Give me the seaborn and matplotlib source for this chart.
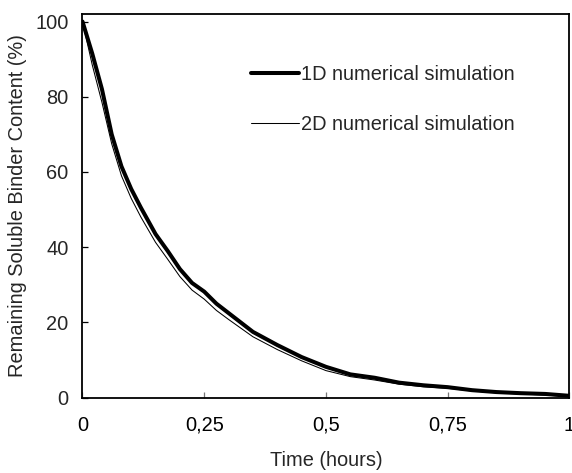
import matplotlib
matplotlib.use("Agg")
import matplotlib.pyplot as plt
import seaborn as sns
import pandas as pd

time_hours = [0, 0.02, 0.04, 0.06, 0.08, 0.10, 0.12, 0.15, 0.175, 0.20, 0.225, 0.25,
              0.275, 0.30, 0.35, 0.40, 0.45, 0.50, 0.55, 0.60, 0.65, 0.70, 0.75,
              0.80, 0.85, 0.90, 0.95, 1.0]
sim_1d = [100, 91.5, 82, 70, 61.5, 55.5, 50.5, 43.5, 39, 34.2, 30.5, 28.2,
          25, 22.5, 17.5, 14, 10.8, 8.2, 6.2, 5.3, 4, 3.3, 2.8,
          2, 1.5, 1.2, 1.0, 0.5]
sim_2d = [100, 88.5, 78.5, 67.5, 59, 53, 48, 41.3, 36.8, 32.2, 28.6, 26.2,
          23.2, 20.8, 16.2, 12.8, 9.8, 7.2, 5.6, 4.7, 3.6, 2.9, 2.5,
          1.8, 1.3, 1.0, 0.7, 0.3]
series_labels = ["1D numerical simulation", "2D numerical simulation"]
x_ticks = [0, 0.25, 0.5, 0.75, 1]
x_tick_labels = ["0", "0,25", "0,5", "0,75", "1"]
y_ticks = [0, 20, 40, 60, 80, 100]

sns.set_style("ticks")
plt.rcParams["font.family"] = ["Liberation Sans", "DejaVu Sans"]
FS = 14.4

fig = plt.figure(figsize=(5.72, 4.73), dpi=100)
ax = fig.add_axes([0.1442, 0.1592, 0.9956 - 0.1442, 0.9704 - 0.1592])

df1 = pd.DataFrame({"t": time_hours, "v": sim_1d})
df2 = pd.DataFrame({"t": time_hours, "v": sim_2d})
sns.lineplot(data=df1, x="t", y="v", ax=ax, color="black", linewidth=2.9,
             label=series_labels[0])
sns.lineplot(data=df2, x="t", y="v", ax=ax, color="black", linewidth=0.75,
             label=series_labels[1])

ax.set_xlim(0, 1)
ax.set_ylim(0, 102)
ax.set_xticks(x_ticks)
ax.set_xticklabels(x_tick_labels)
ax.set_yticks(y_ticks)
ax.tick_params(axis="x", direction="in", length=4.5, width=0.9, color="#777777",
               pad=13, labelsize=FS, labelcolor="black")
ax.tick_params(axis="y", direction="in", length=4.5, width=0.9, color="black",
               pad=10, labelsize=FS)
for s in ax.spines.values():
    s.set_visible(True)
    s.set_linewidth(1.3)
    s.set_color("black")

ax.set_xlabel("Time (hours)", fontsize=FS, labelpad=12)
ax.set_ylabel("Remaining Soluble Binder Content (%)", fontsize=FS, labelpad=6)

leg = ax.legend(loc="upper left", bbox_to_anchor=(0.330, 0.889), frameon=False,
                fontsize=FS, handlelength=2.4, handletextpad=0.1,
                labelspacing=1.55, borderaxespad=0)

fig.savefig("out.png", dpi=100)
